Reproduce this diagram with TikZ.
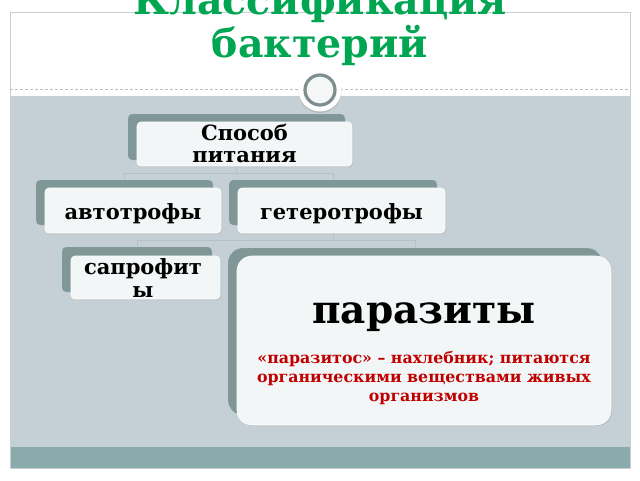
\documentclass[tikz,border=0pt]{standalone}
\usepackage{fontspec}
\setmainfont{DejaVu Serif}
\usetikzlibrary{shadows}
\definecolor{titlegreen}{HTML}{00A651}
\definecolor{slidegray}{HTML}{C5D0D6}
\definecolor{bandteal}{HTML}{8AABAB}
\definecolor{boxback}{HTML}{7F9797}
\definecolor{boxfront}{HTML}{F3F6F7}
\definecolor{linegray}{HTML}{B4C2C8}
\definecolor{framegray}{HTML}{C8D0D4}
\definecolor{ringgray}{HTML}{7E8E8E}
\definecolor{redtext}{HTML}{C00000}
\begin{document}
\begin{tikzpicture}[x=1pt,y=-1pt,
  backbox/.style={fill=boxback, draw=white!60!boxback, densely dotted, line width=0.4pt, rounded corners=4pt, inner sep=0pt},
  frontbox/.style={fill=boxfront, draw=white, line width=0.6pt, rounded corners=4pt, inner sep=0pt, align=center,
     font=\bfseries\fontsize{21}{22}\selectfont, drop shadow={shadow xshift=1pt, shadow yshift=-1pt, opacity=0.25}},
  conn/.style={draw=linegray, line width=0.8pt},
  boxtext/.style={font=\bfseries\fontsize{21}{22}\selectfont, inner sep=0pt},
  titletext/.style={font=\bfseries\fontsize{39.5}{43}\selectfont, text=titlegreen, anchor=base, inner sep=0pt}]
\useasboundingbox (0,0) rectangle (640,480);
\fill[white] (0,0) rectangle (640,480);
% slide
\fill[white] (10,12) rectangle (630,96);
\fill[slidegray] (10,96) rectangle (630,447);
\fill[bandteal] (10,447) rectangle (630,468);
\draw[framegray, line width=0.8pt] (10,12) rectangle (630,468);
\draw[linegray, densely dashed, line width=0.5pt] (10,89) -- (630,89);
% ring
\node[circle, fill=white, minimum size=43pt, inner sep=0pt, drop shadow={shadow xshift=0pt, shadow yshift=-1.5pt, opacity=0.3}] (ring) at (320,90) {};
\node[circle, draw=ringgray, line width=3.2pt, fill=white!92!ringgray, minimum size=30pt, inner sep=0pt] (ringin) at (ring.center) {};
% title
\node[titletext] (title1) at (320,14) {Классификация};
\node[titletext] (title2) at (320,57) {бактерий};
% back boxes
\node[backbox, minimum width=217pt, minimum height=46pt] (spb) at (236.5,137) {};
\node[backbox, minimum width=177pt, minimum height=45pt] (avtb) at (124.5,202.5) {};
\node[backbox, minimum width=208pt, minimum height=45pt] (getb) at (333,202.5) {};
\node[backbox, minimum width=150pt, minimum height=45pt] (sapb) at (137,269.5) {};
\node[backbox, minimum width=374pt, minimum height=167pt, rounded corners=15pt] (parb) at (415,331.5) {};
% connectors
\draw[conn] (spb.south) -- ++(0,13) -| (avtb.north);
\draw[conn] (spb.south) -- ++(0,13) -| (getb.north);
\draw[conn] (getb.south) -- ++(0,15) -| (sapb.north);
\draw[conn] (getb.south) -- ++(0,15) -| (parb.north);
% front boxes
\node[frontbox, minimum width=215pt, minimum height=44pt] (sp) at (244.5,144) {};
\node[frontbox, minimum width=176pt, minimum height=45pt] (avt) at (133,210.5) {};
\node[frontbox, minimum width=207pt, minimum height=45pt] (get) at (341.5,210.5) {};
\node[frontbox, minimum width=149pt, minimum height=43pt] (sap) at (145.5,277.5) {};
\node[frontbox, minimum width=374pt, minimum height=169pt, rounded corners=15pt] (par) at (424,340.5) {};
% texts
\node[boxtext, align=center] (sptext) at (244.5,143) {Способ\\питания};
\node[boxtext, anchor=base] (avttext) at (133,219) {автотрофы};
\node[boxtext, anchor=base] (gettext) at (341.5,219) {гетеротрофы};
\node[boxtext, anchor=base] (saptext1) at (143,274) {сапрофит};
\node[boxtext, anchor=base] (saptext2) at (143,297) {ы};
\node[font=\bfseries\fontsize{39}{44}\selectfont, inner sep=0pt, anchor=base] (partext) at (424,323) {паразиты};
\node[font=\bfseries\fontsize{15.8}{19}\selectfont, text=redtext, align=center, inner sep=0pt] (pardesc) at (424,378)
  {«паразитос» – нахлебник; питаются\\органическими веществами живых\\организмов};
\end{tikzpicture}
\end{document}
